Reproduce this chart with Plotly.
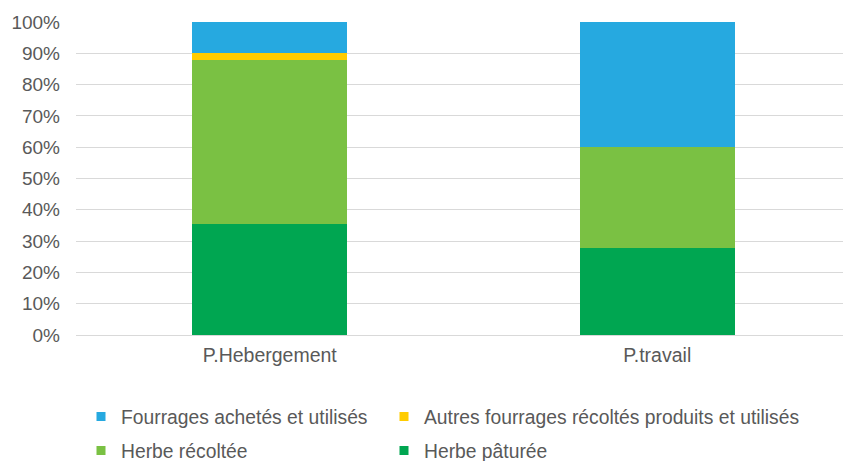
import plotly.graph_objects as go

categories = ["P.Hebergement", "P.travail"]
herbe_paturee = [35.4, 27.8]
herbe_recoltee = [52.6, 32.2]
autres_fourrages = [2.0, 0.0]
fourrages_achetes = [10.0, 40.0]

tick_vals = [0, 10, 20, 30, 40, 50, 60, 70, 80, 90, 100]
tick_text = [f"{v}%" for v in tick_vals]

regular = "Liberation Sans, Arial, sans-serif"
text_color = "#595959"

series = [
    ("Herbe pâturée", herbe_paturee, "#00A651", "legend4"),
    ("Herbe récoltée", herbe_recoltee, "#7AC143", "legend3"),
    ("Autres fourrages récoltés produits et utilisés", autres_fourrages, "#FFCC00", "legend2"),
    ("Fourrages achetés et utilisés", fourrages_achetes, "#26A9E0", "legend"),
]

fig = go.Figure()
for name, vals, col, _ in series:
    fig.add_trace(go.Bar(x=categories, y=vals, name=name, marker_color=col,
                         marker_line_width=0, showlegend=False, hoverinfo="skip"))
for name, vals, col, leg in series:
    fig.add_trace(go.Scatter(x=[None], y=[None], mode="markers", name=name,
                             marker=dict(symbol="square", size=9, color=col),
                             legend=leg, showlegend=True))

W, H = 843, 453
legend_pos = {"legend": (73, 409), "legend2": (376, 409),
              "legend3": (73, 443), "legend4": (376, 443)}
legends = {}
for key, (lx, ly) in legend_pos.items():
    legends[key] = dict(orientation="h", xref="container", yref="container",
                        x=lx / W, y=1 - ly / H, xanchor="left", yanchor="middle",
                        font=dict(family=regular, size=19.3, color=text_color),
                        bgcolor="rgba(0,0,0,0)")

fig.update_layout(
    width=W, height=H,
    barmode="stack", bargap=0.6,
    plot_bgcolor="white", paper_bgcolor="white",
    margin=dict(l=68, r=0, t=14, b=126),
    font=dict(family=regular, size=19, color=text_color),
    xaxis=dict(showline=True, linecolor="#d9d9d9", linewidth=1,
               tickfont=dict(family=regular, size=19.5, color=text_color),
               ticks="", ticklabelstandoff=3),
    yaxis=dict(range=[0, 100], tickvals=tick_vals, ticktext=tick_text,
               showgrid=True, gridcolor="#d9d9d9", gridwidth=1,
               zeroline=False, ticks="", ticklabelstandoff=15,
               tickfont=dict(family=regular, size=19, color=text_color)),
    **legends,
)

fig.write_html("out.html")
